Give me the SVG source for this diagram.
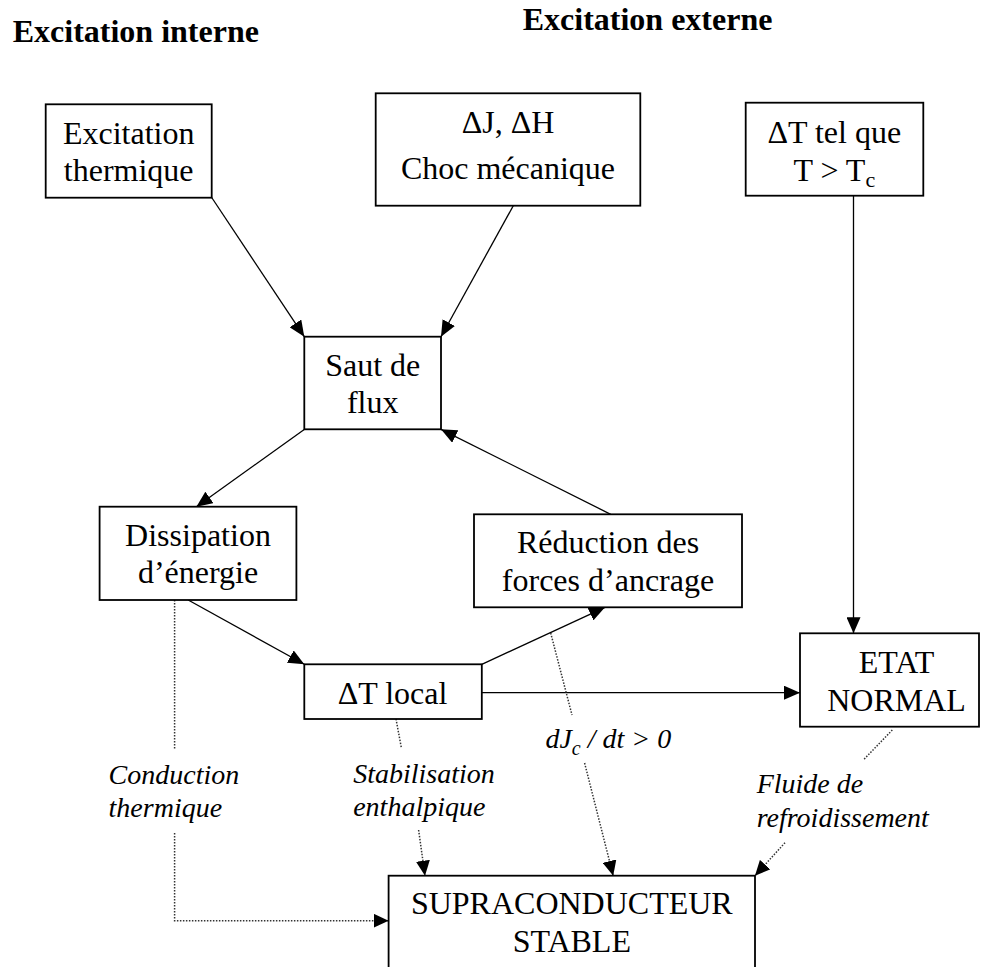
<svg xmlns="http://www.w3.org/2000/svg" width="982" height="967" viewBox="0 0 982 967">
<style>
.box{fill:#fff;stroke:#000;stroke-width:1.8}
.t{font-family:"Liberation Serif","Times New Roman",serif;font-size:32px;fill:#000;text-anchor:middle}
.h{font-family:"Liberation Serif","Times New Roman",serif;font-size:32px;font-weight:bold;fill:#000}
.i{font-family:"Liberation Serif","Times New Roman",serif;font-size:28px;font-style:italic;fill:#000}
.c{fill:none;stroke:#000;stroke-width:1.3}
.d{fill:none;stroke:#333;stroke-width:1.5;stroke-dasharray:1.5 1.5}
</style>
<defs>
<marker id="ah" markerUnits="userSpaceOnUse" markerWidth="16" markerHeight="14" refX="16" refY="7" orient="auto">
<path d="M0,0 L16,7 L0,14 z" fill="#000"/>
</marker>
<marker id="ad" markerUnits="userSpaceOnUse" markerWidth="15" markerHeight="14" refX="15" refY="7" orient="auto">
<path d="M0,0 L15,7 L0,14 z" fill="#000"/>
</marker>
</defs>
<rect width="982" height="967" fill="#fff"/>
<text class="h" x="12.7" y="42">Excitation interne</text>
<text class="h" x="522.7" y="30">Excitation externe</text>

<g id="connectors">
<line class="c" x1="211.7" y1="197.5" x2="304.3" y2="336.7" marker-end="url(#ah)"/>
<line class="c" x1="513.3" y1="205.7" x2="441" y2="336.7" marker-end="url(#ah)"/>
<line class="c" x1="304.6" y1="429.3" x2="196.4" y2="506.7" marker-end="url(#ah)"/>
<line class="c" x1="610.7" y1="514.3" x2="441" y2="429.3" marker-end="url(#ah)"/>
<line class="c" x1="188.2" y1="600" x2="304.3" y2="664.3" marker-end="url(#ah)"/>
<line class="c" x1="481.8" y1="664.3" x2="605" y2="607.3" marker-end="url(#ah)"/>
<line class="c" x1="481.8" y1="692.7" x2="800" y2="692.7" marker-end="url(#ah)"/>
<line class="c" x1="853.5" y1="195.7" x2="853.5" y2="633.3" marker-end="url(#ah)"/>
<line class="d" x1="174.6" y1="600" x2="174.6" y2="750"/>
<polyline class="d" points="174.6,833 174.6,920.7 388.6,920.7" marker-end="url(#ad)"/>
<line class="d" x1="396" y1="719" x2="401.4" y2="748"/>
<line class="d" x1="418.6" y1="830" x2="425" y2="875.7" marker-end="url(#ad)"/>
<line class="d" x1="550.7" y1="633" x2="572" y2="715"/>
<line class="d" x1="584.6" y1="763" x2="613.2" y2="875.7" marker-end="url(#ad)"/>
<line class="d" x1="892.3" y1="730" x2="864" y2="759.3"/>
<line class="d" x1="785" y1="842.7" x2="755" y2="875.7" marker-end="url(#ad)"/>
</g>

<g id="excitation-thermique">
<rect class="box" x="45.7" y="104.3" width="166" height="93.4"/>
<text class="t" x="128.7" y="144.3">Excitation</text>
<text class="t" x="128.7" y="180.7">thermique</text>
</g>
<g id="choc-mecanique">
<rect class="box" x="375.7" y="93.3" width="264.6" height="112.4"/>
<text class="t" x="508" y="133.3">ΔJ, ΔH</text>
<text class="t" x="508" y="179.3">Choc mécanique</text>
</g>
<g id="delta-t-tc">
<rect class="box" x="745.7" y="102.7" width="177.6" height="93"/>
<text class="t" x="834.3" y="143.3">ΔT tel que</text>
<text class="t" x="834.3" y="180.7">T &gt; T<tspan font-size="22" dy="6">c</tspan></text>
</g>
<g id="saut-de-flux">
<rect class="box" x="304.3" y="336.7" width="136.7" height="92.6"/>
<text class="t" x="372.7" y="375.7">Saut de</text>
<text class="t" x="372.7" y="413">flux</text>
</g>
<g id="dissipation">
<rect class="box" x="99.6" y="506.7" width="196.8" height="93.3"/>
<text class="t" x="198" y="545.7">Dissipation</text>
<text class="t" x="198" y="583.3">d’énergie</text>
</g>
<g id="reduction">
<rect class="box" x="474" y="514.3" width="268" height="93"/>
<text class="t" x="608" y="553.3">Réduction des</text>
<text class="t" x="608" y="591">forces d’ancrage</text>
</g>
<g id="delta-t-local">
<rect class="box" x="304.3" y="664.3" width="177.5" height="54.7"/>
<text class="t" x="392.5" y="704">ΔT local</text>
</g>
<g id="etat-normal">
<rect class="box" x="800" y="633.3" width="179" height="93.4"/>
<text class="t" x="896.5" y="672.7">ETAT</text>
<text class="t" x="896.5" y="710.7">NORMAL</text>
</g>
<g id="supraconducteur">
<rect class="box" x="388.6" y="875.7" width="366.4" height="100"/>
<text class="t" x="571.8" y="914.3">SUPRACONDUCTEUR</text>
<text class="t" x="571.8" y="951.7">STABLE</text>
</g>

<g id="labels">
<text class="i" x="108.6" y="784">Conduction</text>
<text class="i" x="108.6" y="817.3">thermique</text>
<text class="i" x="353.2" y="782.7">Stabilisation</text>
<text class="i" x="353.2" y="816">enthalpique</text>
<text class="i" x="545.4" y="748.3">dJ<tspan font-size="20" dy="7">c</tspan><tspan dy="-7"> / dt &gt; 0</tspan></text>
<text class="i" x="756.7" y="793.3">Fluide de</text>
<text class="i" x="756.7" y="826.7">refroidissement</text>
</g>
</svg>
